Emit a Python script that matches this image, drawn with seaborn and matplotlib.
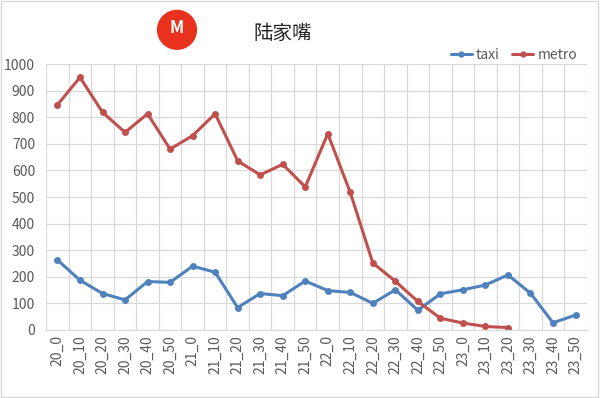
import numpy as np
import pandas as pd
import matplotlib
matplotlib.use('Agg')
import matplotlib.pyplot as plt
from matplotlib.patches import Ellipse, Rectangle
import seaborn as sns

# time slots (hour_minute)
slots = ['20_0', '20_10', '20_20', '20_30', '20_40', '20_50',
         '21_0', '21_10', '21_20', '21_30', '21_40', '21_50',
         '22_0', '22_10', '22_20', '22_30', '22_40', '22_50',
         '23_0', '23_10', '23_20', '23_30', '23_40', '23_50']

taxi = [263, 187, 137, 113, 182, 179, 240, 217, 84, 137, 129, 184,
        148, 141, 100, 151, 74, 136, 151, 169, 207, 138, 27, 56]

metro = [847, 950, 819, 743, 813, 680, 731, 813, 636, 583, 623, 538,
         738, 517, 252, 183, 107, 44, 26, 13, 9, np.nan, np.nan, np.nan]

colors = {'taxi': '#4F81BD', 'metro': '#C0504D'}

df = pd.DataFrame({'pos': list(range(len(slots))) * 2,
                   'value': taxi + metro,
                   'kind': ['taxi'] * len(slots) + ['metro'] * len(slots)})
df = df.dropna()

sns.set_style('white')
plt.rcParams['font.family'] = ['Noto Sans CJK SC', 'DejaVu Sans']

fig = plt.figure(figsize=(6, 3.98), dpi=100)
ax = fig.add_axes([0.077, 0.171, 0.901, 0.668])

sns.lineplot(data=df, x='pos', y='value', hue='kind', palette=colors,
             marker='o', markersize=5, markeredgewidth=0, linewidth=2.2,
             sort=False, ax=ax, legend=False)

ax.set_xlim(-0.5, len(slots) - 0.5)
ax.set_ylim(0, 1000)
ax.set_yticks(range(0, 1001, 100))
ax.set_xticks(range(len(slots)))
ax.set_xticklabels(slots, rotation=90)
ax.set_xticks(np.arange(-0.5, len(slots), 1), minor=True)
ax.grid(False)
ax.grid(True, which='minor', axis='x', color='#D9D9D9', linewidth=0.9)
ax.grid(True, which='major', axis='y', color='#D9D9D9', linewidth=0.9)
ax.set_axisbelow(True)
ax.tick_params(axis='both', which='both', length=0, labelsize=10,
               colors='#595959', pad=4)
ax.tick_params(axis='y', pad=8)
ax.set_xlabel('')
ax.set_ylabel('')
for s in ['top', 'right', 'left']:
    ax.spines[s].set_visible(False)
ax.spines['bottom'].set_color('#D9D9D9')

# legend
handles = [plt.Line2D([], [], color=colors[k], marker='o', markersize=3.5,
                      linewidth=2.2) for k in ['taxi', 'metro']]
fig.legend(handles, ['taxi', 'metro'], loc='center right',
           bbox_to_anchor=(0.978, 0.862), ncol=2, frameon=False,
           fontsize=10, handlelength=1.5, handletextpad=0.3,
           columnspacing=0.9, labelcolor='#595959', borderpad=0.2)

# title with logo
fig.text(0.472, 0.915, '陆家嘴', ha='center', va='center', fontsize=14,
         color='#222222')
logo = Ellipse((0.295, 0.925), 0.067, 0.101, transform=fig.transFigure,
               facecolor='#E8321E', edgecolor='none')
fig.patches.append(logo)
fig.text(0.295, 0.93, 'M', ha='center', va='center', fontsize=12,
         color='white', fontweight='bold')

# chart border
fig.patches.append(Rectangle((0.002, 0.003), 0.995, 0.994,
                             transform=fig.transFigure, fill=False,
                             edgecolor='#D9D9D9', linewidth=1))

fig.savefig('out.png', dpi=100)
